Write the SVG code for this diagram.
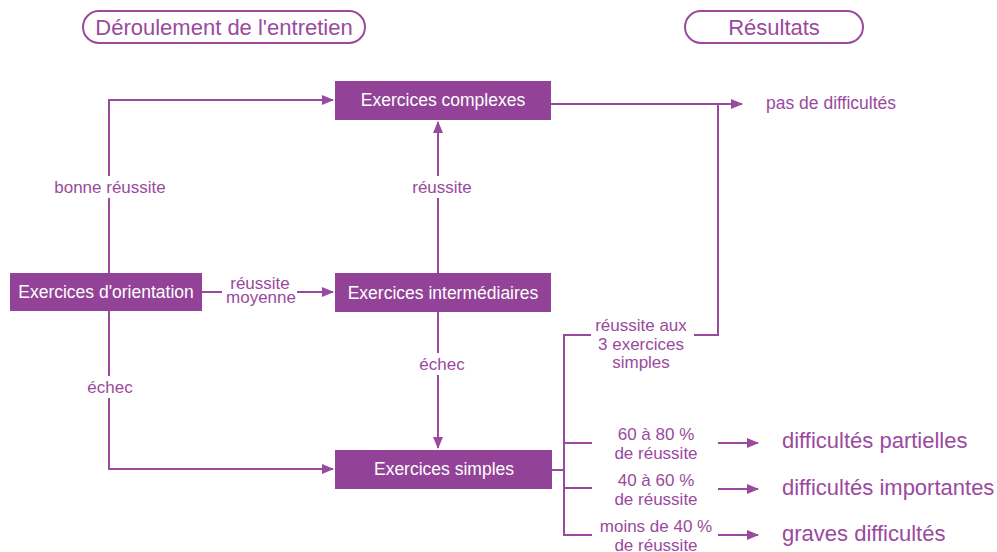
<svg xmlns="http://www.w3.org/2000/svg" width="997" height="552" viewBox="0 0 997 552">
<style>
.box{fill:#934397}
.bt{fill:#ffffff;font-family:"Liberation Sans",Arial,sans-serif;font-size:17.5px;text-anchor:middle}
.lbl{fill:#9a4a9e;font-family:"Liberation Sans",Arial,sans-serif;font-size:17px;text-anchor:middle}
.res{fill:#9a4a9e;font-family:"Liberation Sans",Arial,sans-serif;font-size:22px}
.hd{fill:#9a4a9e;font-family:"Liberation Sans",Arial,sans-serif;font-size:22px;text-anchor:middle}
.pill{fill:none;stroke:#9a4a9e;stroke-width:2}
.ln{fill:none;stroke:#9a4a9e;stroke-width:2}
</style>
<defs>
<marker id="ah" markerWidth="12" markerHeight="10" refX="11" refY="5" orient="auto" markerUnits="userSpaceOnUse">
<path d="M0,0 L12,5 L0,10 Z" fill="#9a4a9e"/>
</marker>
</defs>
<rect width="997" height="552" fill="#ffffff"/>
<g id="header-left">
<rect class="pill" x="83" y="11" width="282" height="32" rx="16"/>
<text class="hd" x="224" y="35">Déroulement de l'entretien</text>
</g>
<g id="header-right">
<rect class="pill" x="685" y="11" width="178" height="32" rx="16"/>
<text class="hd" x="774" y="35">Résultats</text>
</g>
<g id="connectors">
<path class="ln" d="M109,273 V100 H333" marker-end="url(#ah)"/>
<path class="ln" d="M109,311 V469 H333" marker-end="url(#ah)"/>
<path class="ln" d="M202,292 H222"/>
<path class="ln" d="M297,292 H333" marker-end="url(#ah)"/>
<path class="ln" d="M438,273 V122" marker-end="url(#ah)"/>
<path class="ln" d="M438,312 V448" marker-end="url(#ah)"/>
<path class="ln" d="M551,104 H742" marker-end="url(#ah)"/>
<path class="ln" d="M718,104 V335 H694"/>
<path class="ln" d="M552,470 H564"/>
<path class="ln" d="M591,335 H564 V535 H592"/>
<path class="ln" d="M564,443 H592"/>
<path class="ln" d="M564,488 H592"/>
<path class="ln" d="M718,443 H758" marker-end="url(#ah)"/>
<path class="ln" d="M718,489 H758" marker-end="url(#ah)"/>
<path class="ln" d="M718,535 H758" marker-end="url(#ah)"/>
<rect x="46" y="176" width="128" height="22" fill="#ffffff"/>
<rect x="402" y="176" width="72" height="22" fill="#ffffff"/>
<rect x="82" y="376" width="56" height="22" fill="#ffffff"/>
<rect x="410" y="353" width="56" height="22" fill="#ffffff"/>
<text class="lbl" x="110" y="193">bonne réussite</text>
<text class="lbl" x="442" y="193">réussite</text>
<text class="lbl" x="110" y="393">échec</text>
<text class="lbl" x="442" y="370">échec</text>
<text class="lbl" x="260" y="289">réussite</text>
<text class="lbl" x="261" y="303">moyenne</text>
<text class="lbl" x="641" y="331">réussite aux</text>
<text class="lbl" x="641" y="350">3 exercices</text>
<text class="lbl" x="641" y="368">simples</text>
<text class="lbl" x="656" y="440">60 à 80 %</text>
<text class="lbl" x="656" y="459">de réussite</text>
<text class="lbl" x="656" y="486">40 à 60 %</text>
<text class="lbl" x="656" y="505">de réussite</text>
<text class="lbl" x="656" y="532">moins de 40 %</text>
<text class="lbl" x="656" y="551">de réussite</text>
</g>
<g id="exercices-complexes">
<rect class="box" x="335" y="81" width="216" height="39"/>
<text class="bt" x="443" y="106">Exercices complexes</text>
</g>
<g id="exercices-orientation">
<rect class="box" x="10" y="273" width="192" height="38"/>
<text class="bt" x="106" y="298">Exercices d'orientation</text>
</g>
<g id="exercices-intermediaires">
<rect class="box" x="335" y="273" width="216" height="39"/>
<text class="bt" x="443" y="299">Exercices intermédiaires</text>
</g>
<g id="exercices-simples">
<rect class="box" x="335" y="450" width="217" height="39"/>
<text class="bt" x="444" y="475">Exercices simples</text>
</g>
<g id="resultats">
<text class="lbl" x="766" y="109" style="text-anchor:start;font-size:17.5px">pas de difficultés</text>
<text class="res" x="782" y="448">difficultés partielles</text>
<text class="res" x="782" y="495">difficultés importantes</text>
<text class="res" x="782" y="541">graves difficultés</text>
</g>
</svg>
